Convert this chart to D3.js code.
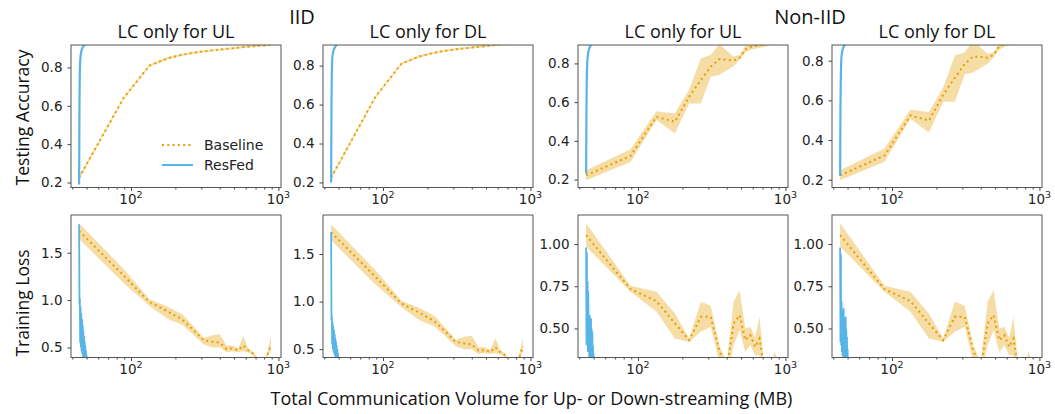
<!DOCTYPE html>
<html><head><meta charset="utf-8">
<script src="https://cdn.jsdelivr.net/npm/d3@7"></script>
<style>body{margin:0;background:#fff} svg{display:block}</style>
</head><body>
<svg id="c" width="1055" height="414"></svg>
<script>
// ---------------- DATA ----------------
const groupLabels = ["IID", "Non-IID"];
const panelTitles = ["LC only for UL", "LC only for DL", "LC only for UL", "LC only for DL"];
const seriesNames = ["Baseline", "ResFed"];
const xMajorTicks = [100, 1000];
const xMinorTicks = [40, 50, 60, 70, 80, 90, 200, 300, 400, 500, 600, 700, 800, 900];
const accTicks = [0.2, 0.4, 0.6, 0.8];
const iidLossTicks = [0.5, 1.0, 1.5];
const noniidLossTicks = [0.5, 0.75, 1.0];

// Baseline: total communication volume (MB) per round
const baseX = [44.5, 89, 133.5, 178, 222.5, 267, 311.5, 356, 400.5, 445, 489.5, 534, 578.5, 623, 667.5, 712, 756.5, 801, 845.5, 890];
// IID baseline
const iidAcc   = [0.225, 0.64, 0.81, 0.848, 0.866, 0.877, 0.884, 0.889, 0.893, 0.897, 0.900, 0.903, 0.906, 0.908, 0.910, 0.912, 0.914, 0.915, 0.917, 0.919];
const iidAccLo = [0.215, 0.634, 0.804, 0.842, 0.861, 0.872, 0.879, 0.884, 0.888, 0.892, 0.895, 0.898, 0.901, 0.903, 0.905, 0.907, 0.909, 0.910, 0.912, 0.914];
const iidAccHi = [0.235, 0.646, 0.816, 0.854, 0.871, 0.882, 0.889, 0.894, 0.898, 0.902, 0.905, 0.908, 0.911, 0.913, 0.915, 0.917, 0.919, 0.920, 0.922, 0.924];
const iidLoss   = [1.73, 1.26, 0.98, 0.88, 0.795, 0.68, 0.575, 0.56, 0.55, 0.485, 0.49, 0.47, 0.52, 0.47, 0.44, 0.38, 0.33, 0.34, 0.43, 0.53];
const iidLossLo = [1.645, 1.18, 0.94, 0.80, 0.74, 0.63, 0.53, 0.50, 0.50, 0.45, 0.46, 0.45, 0.46, 0.45, 0.42, 0.36, 0.31, 0.32, 0.40, 0.47];
const iidLossHi = [1.81, 1.33, 1.01, 0.93, 0.85, 0.72, 0.60, 0.63, 0.64, 0.52, 0.52, 0.49, 0.62, 0.49, 0.46, 0.40, 0.35, 0.37, 0.46, 0.62];
// Non-IID baseline
const niAcc   = [0.222, 0.322, 0.524, 0.498, 0.628, 0.714, 0.783, 0.822, 0.818, 0.815, 0.83, 0.872, 0.884, 0.89, 0.895, 0.90, 0.905, 0.91, 0.912, 0.915];
const niAccLo = [0.197, 0.291, 0.507, 0.438, 0.593, 0.593, 0.731, 0.740, 0.765, 0.785, 0.817, 0.855, 0.87, 0.876, 0.88, 0.885, 0.89, 0.895, 0.90, 0.90];
const niAccHi = [0.248, 0.357, 0.553, 0.541, 0.665, 0.826, 0.843, 0.90, 0.865, 0.835, 0.843, 0.89, 0.90, 0.905, 0.91, 0.915, 0.92, 0.925, 0.925, 0.93];
const niLoss   = [1.053, 0.733, 0.662, 0.53, 0.431, 0.569, 0.569, 0.37, 0.26, 0.53, 0.579, 0.431, 0.46, 0.391, 0.44, 0.28, 0.25, 0.26, 0.31, 0.27];
const niLossLo = [0.985, 0.717, 0.599, 0.441, 0.42, 0.48, 0.51, 0.30, 0.20, 0.40, 0.49, 0.36, 0.40, 0.342, 0.34, 0.22, 0.20, 0.20, 0.25, 0.20];
const niLossHi = [1.123, 0.753, 0.717, 0.589, 0.44, 0.658, 0.634, 0.40, 0.30, 0.658, 0.727, 0.50, 0.51, 0.445, 0.569, 0.31, 0.28, 0.30, 0.364, 0.30];

// ResFed: total communication volume (MB) per round
const resX = [44.5, 44.75, 45.0, 45.25, 45.5, 45.75, 46.0, 46.25, 46.5, 46.75, 47.0, 47.25, 47.5, 47.75, 48.0, 48.25, 48.5, 48.75, 49.0, 49.25, 49.5, 49.75, 50.0, 50.25];
const resAccIidUl = [0.19, 0.62, 0.78, 0.835, 0.858, 0.872, 0.882, 0.889, 0.895, 0.899, 0.903, 0.906, 0.909, 0.912, 0.914, 0.916, 0.918, 0.92, 0.922, 0.924, 0.925, 0.926, 0.927, 0.928];
const resAccIidDl = [0.20, 0.60, 0.77, 0.83, 0.852, 0.864, 0.872, 0.879, 0.884, 0.888, 0.892, 0.895, 0.898, 0.90, 0.902, 0.904, 0.906, 0.908, 0.91, 0.912, 0.914, 0.915, 0.916, 0.917];
const resAccNiUl  = [0.23, 0.58, 0.74, 0.80, 0.828, 0.845, 0.856, 0.864, 0.871, 0.877, 0.882, 0.886, 0.889, 0.892, 0.895, 0.898, 0.90, 0.902, 0.904, 0.906, 0.908, 0.91, 0.912, 0.913];
const resAccNiDl  = [0.22, 0.57, 0.73, 0.795, 0.822, 0.837, 0.847, 0.855, 0.861, 0.866, 0.870, 0.873, 0.876, 0.879, 0.882, 0.885, 0.888, 0.89, 0.892, 0.894, 0.896, 0.898, 0.90, 0.902];
const resLossIidUl   = [1.80, 0.95, 1.02, 0.55, 0.93, 0.50, 0.86, 0.46, 0.80, 0.43, 0.74, 0.41, 0.68, 0.39, 0.62, 0.37, 0.57, 0.36, 0.52, 0.35, 0.47, 0.34, 0.42, 0.33];
const resLossIidUlLo = [1.70, 0.85, 0.92, 0.48, 0.85, 0.44, 0.78, 0.40, 0.72, 0.38, 0.66, 0.36, 0.61, 0.34, 0.56, 0.33, 0.51, 0.32, 0.47, 0.31, 0.43, 0.30, 0.38, 0.29];
const resLossIidUlHi = [1.90, 1.10, 1.12, 0.68, 1.00, 0.62, 0.93, 0.58, 0.88, 0.52, 0.82, 0.50, 0.76, 0.47, 0.70, 0.45, 0.64, 0.43, 0.58, 0.41, 0.53, 0.39, 0.47, 0.37];
const resLossIidDl   = [1.73, 0.80, 0.85, 0.55, 0.78, 0.50, 0.74, 0.47, 0.70, 0.45, 0.66, 0.43, 0.62, 0.41, 0.58, 0.40, 0.54, 0.38, 0.50, 0.37, 0.46, 0.36, 0.42, 0.35];
const resLossIidDlLo = [1.68, 0.74, 0.78, 0.49, 0.72, 0.45, 0.68, 0.42, 0.64, 0.40, 0.60, 0.39, 0.56, 0.37, 0.53, 0.36, 0.49, 0.34, 0.46, 0.33, 0.42, 0.32, 0.38, 0.31];
const resLossIidDlHi = [1.78, 0.88, 0.92, 0.66, 0.90, 0.62, 0.84, 0.58, 0.80, 0.55, 0.74, 0.52, 0.70, 0.49, 0.66, 0.47, 0.61, 0.45, 0.56, 0.43, 0.51, 0.41, 0.47, 0.39];
const resLossNiUl   = [0.98, 0.40, 0.95, 0.45, 0.78, 0.36, 0.72, 0.40, 0.52, 0.32, 0.58, 0.30, 0.55, 0.31, 0.56, 0.29, 0.50, 0.28, 0.48, 0.27, 0.40, 0.26, 0.35, 0.25];
const resLossNiUlLo = [0.96, 0.34, 0.90, 0.38, 0.68, 0.30, 0.62, 0.33, 0.44, 0.27, 0.50, 0.25, 0.46, 0.26, 0.48, 0.24, 0.43, 0.23, 0.42, 0.22, 0.35, 0.22, 0.30, 0.21];
const resLossNiUlHi = [0.99, 0.48, 0.98, 0.52, 0.84, 0.44, 0.78, 0.48, 0.62, 0.40, 0.66, 0.38, 0.76, 0.38, 0.64, 0.36, 0.58, 0.34, 0.54, 0.33, 0.46, 0.31, 0.40, 0.30];
const resLossNiDl   = [0.98, 0.42, 0.94, 0.40, 0.66, 0.36, 0.60, 0.34, 0.58, 0.33, 0.62, 0.32, 0.55, 0.31, 0.56, 0.30, 0.57, 0.29, 0.50, 0.28, 0.45, 0.27, 0.38, 0.26];
const resLossNiDlLo = [0.96, 0.36, 0.88, 0.34, 0.58, 0.30, 0.52, 0.29, 0.50, 0.28, 0.54, 0.27, 0.48, 0.26, 0.49, 0.25, 0.50, 0.24, 0.44, 0.23, 0.40, 0.22, 0.33, 0.21];
const resLossNiDlHi = [0.99, 0.50, 0.97, 0.48, 0.74, 0.44, 0.68, 0.42, 0.66, 0.40, 0.78, 0.38, 0.62, 0.37, 0.64, 0.36, 0.72, 0.35, 0.56, 0.33, 0.51, 0.32, 0.43, 0.31];

// ---------------- LAYOUT ----------------
const W = 1055, H = 414;
const colLeft = [71, 323, 578, 832], PW = 210;
const rowTop = [45, 215], PH = 142.5;
const xDomain = [39.2, 1041];
const accDomains  = [[0.174, 0.917], [0.174, 0.906], [0.159, 0.895], [0.161, 0.879]];
const lossDomains = [[0.394, 1.898], [0.412, 1.911], [0.328, 1.172], [0.328, 1.172]];
const C_BASE = "#E69F00", C_RES = "#56B4E9";
const TICK_FONT = "DejaVu Sans", LABEL_FONT = "Open Sans";

const zip = (xs, ys, lo, hi) => xs.map((x, i) => ({x, y: ys[i], lo: lo ? lo[i] : null, hi: hi ? hi[i] : null}));

const panels = [
  {c:0, r:0, dom: accDomains[0], ticks: accTicks, fmt: ".1f",
   base: zip(baseX, iidAcc, iidAccLo, iidAccHi), res: zip(resX, resAccIidUl)},
  {c:1, r:0, dom: accDomains[1], ticks: accTicks, fmt: ".1f",
   base: zip(baseX, iidAcc, iidAccLo, iidAccHi), res: zip(resX, resAccIidDl)},
  {c:2, r:0, dom: accDomains[2], ticks: accTicks, fmt: ".1f",
   base: zip(baseX, niAcc, niAccLo, niAccHi), res: zip(resX, resAccNiUl)},
  {c:3, r:0, dom: accDomains[3], ticks: accTicks, fmt: ".1f",
   base: zip(baseX, niAcc, niAccLo, niAccHi), res: zip(resX, resAccNiDl)},
  {c:0, r:1, dom: lossDomains[0], ticks: iidLossTicks, fmt: ".1f",
   base: zip(baseX, iidLoss, iidLossLo, iidLossHi), res: zip(resX, resLossIidUl, resLossIidUlLo, resLossIidUlHi)},
  {c:1, r:1, dom: lossDomains[1], ticks: iidLossTicks, fmt: ".1f",
   base: zip(baseX, iidLoss, iidLossLo, iidLossHi), res: zip(resX, resLossIidDl, resLossIidDlLo, resLossIidDlHi)},
  {c:2, r:1, dom: lossDomains[2], ticks: noniidLossTicks, fmt: ".2f",
   base: zip(baseX, niLoss, niLossLo, niLossHi), res: zip(resX, resLossNiUl, resLossNiUlLo, resLossNiUlHi)},
  {c:3, r:1, dom: lossDomains[3], ticks: noniidLossTicks, fmt: ".2f",
   base: zip(baseX, niLoss, niLossLo, niLossHi), res: zip(resX, resLossNiDl, resLossNiDlLo, resLossNiDlHi)}
];

const svg = d3.select("#c");
svg.append("rect").attr("width", W).attr("height", H).attr("fill", "#fff");
const x = d3.scaleLog().domain(xDomain).range([0, PW]);
const sup = {100: "2", 1000: "3"};

panels.forEach((p, i) => {
  const g = svg.append("g").attr("transform", `translate(${colLeft[p.c]},${rowTop[p.r]})`);
  const y = d3.scaleLinear().domain(p.dom).range([PH, 0]);
  const clipId = "clip" + i;
  g.append("clipPath").attr("id", clipId).append("rect").attr("width", PW).attr("height", PH);
  const plot = g.append("g").attr("clip-path", `url(#${clipId})`);

  const area = d3.area().x(d => x(d.x)).y0(d => y(d.lo)).y1(d => y(d.hi));
  const line = d3.line().x(d => x(d.x)).y(d => y(d.y));

  plot.append("path").datum(p.base).attr("d", area)
    .attr("fill", C_BASE).attr("fill-opacity", 0.35).attr("stroke", "none");
  plot.append("path").datum(p.base).attr("d", line)
    .attr("fill", "none").attr("stroke", C_BASE).attr("stroke-width", 2)
    .attr("stroke-dasharray", "2,3.3");
  if (p.res[0].lo !== null) {
    plot.append("path").datum(p.res).attr("d", area)
      .attr("fill", C_RES).attr("fill-opacity", 0.3).attr("stroke", "none");
  }
  plot.append("path").datum(p.res).attr("d", line)
    .attr("fill", "none").attr("stroke", C_RES).attr("stroke-width", p.r === 0 ? 2.2 : 1.8);

  // y axis
  const ya = g.append("g").call(d3.axisLeft(y).tickValues(p.ticks).tickSize(3.5).tickPadding(5)
      .tickFormat(d3.format(p.fmt)));
  ya.select(".domain").remove();
  ya.selectAll("line").attr("stroke", "#444");
  ya.selectAll("text").attr("font-family", TICK_FONT).attr("font-size", 13.5).attr("fill", "#222");

  // x axis
  const xa = g.append("g").attr("transform", `translate(0,${PH})`)
    .call(d3.axisBottom(x).tickValues(xMajorTicks).tickSize(3.5).tickFormat(() => ""));
  xa.select(".domain").remove();
  xa.selectAll("line").attr("stroke", "#444");
  const xm = g.append("g").attr("transform", `translate(0,${PH})`)
    .call(d3.axisBottom(x).tickValues(xMinorTicks).tickSize(2).tickFormat(() => ""));
  xm.select(".domain").remove();
  xm.selectAll("line").attr("stroke", "#444");
  xMajorTicks.forEach(v => {
    const t = g.append("text").attr("x", x(v)).attr("y", PH + 16.5).attr("text-anchor", "middle")
      .attr("font-family", TICK_FONT).attr("font-size", 13.5).attr("fill", "#222");
    t.append("tspan").text("10");
    t.append("tspan").attr("dy", -6).attr("font-size", 9.5).text(sup[v]);
  });

  // frame
  g.append("rect").attr("width", PW).attr("height", PH)
    .attr("fill", "none").attr("stroke", "#555").attr("stroke-width", 1);

  // titles
  if (p.r === 0) {
    g.append("text").attr("x", PW / 2).attr("y", 37.5 - rowTop[0]).attr("text-anchor", "middle")
      .attr("font-family", LABEL_FONT).attr("font-size", 18).attr("fill", "#111").text(panelTitles[p.c]);
  }
});

// group labels
[[0, 1], [2, 3]].forEach((pair, k) => {
  const cx = (colLeft[pair[0]] + colLeft[pair[1]] + PW) / 2;
  svg.append("text").attr("x", cx).attr("y", 23.5).attr("text-anchor", "middle")
    .attr("font-family", LABEL_FONT).attr("font-size", 20).attr("fill", "#111").text(groupLabels[k]);
});

// axis labels
svg.append("text").attr("transform", "translate(29,117.5) rotate(-90)").attr("text-anchor", "middle")
  .attr("font-family", LABEL_FONT).attr("font-size", 17.5).attr("fill", "#111").text("Testing Accuracy");
svg.append("text").attr("transform", "translate(28.5,303) rotate(-90)").attr("text-anchor", "middle")
  .attr("font-family", LABEL_FONT).attr("font-size", 17.5).attr("fill", "#111").text("Training Loss");
svg.append("text").attr("x", 531.5).attr("y", 405).attr("text-anchor", "middle")
  .attr("font-family", LABEL_FONT).attr("font-size", 18).attr("fill", "#111")
  .text("Total Communication Volume for Up- or Down-streaming (MB)");

// legend (in first panel)
const lg = svg.append("g");
const legendItems = [
  {name: seriesNames[0], color: C_BASE, dash: "2,3.3", y: 145},
  {name: seriesNames[1], color: C_RES, dash: null, y: 165}
];
legendItems.forEach(it => {
  lg.append("line").attr("x1", 162).attr("x2", 193).attr("y1", it.y).attr("y2", it.y)
    .attr("stroke", it.color).attr("stroke-width", 2).attr("stroke-dasharray", it.dash);
  lg.append("text").attr("x", 204).attr("y", it.y + 5).attr("font-family", TICK_FONT)
    .attr("font-size", 14).attr("fill", "#222").text(it.name);
});
</script>
</body></html>
